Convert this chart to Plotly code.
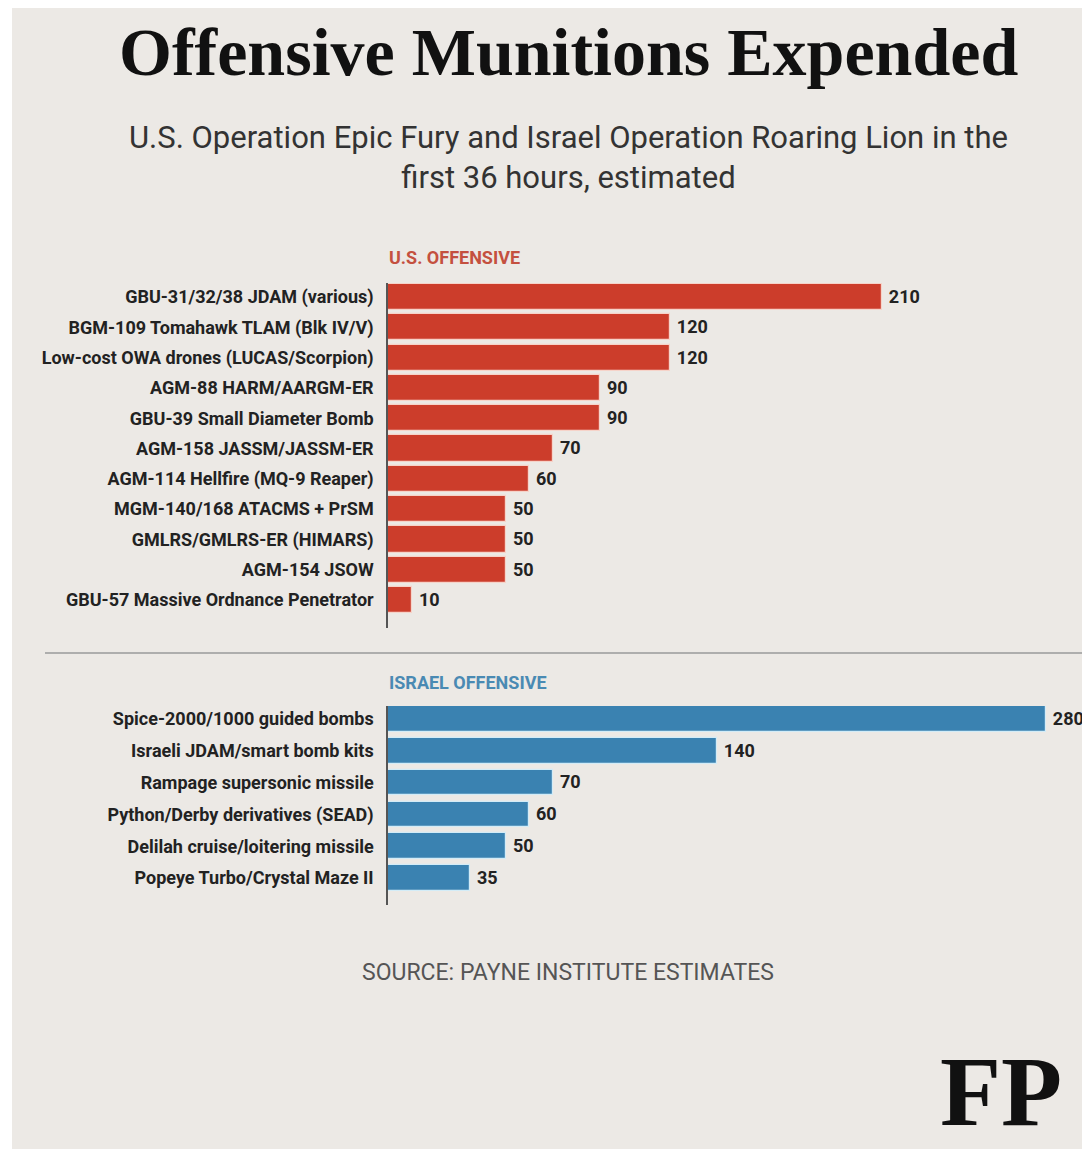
import plotly.graph_objects as go

# page body adds an 8px margin; figure is sized and positioned to compensate
OFF = 8
W, H = 1090 - OFF, 1149 - OFF

us_labels = [
    "GBU-31/32/38 JDAM (various)",
    "BGM-109 Tomahawk TLAM (Blk IV/V)",
    "Low-cost OWA drones (LUCAS/Scorpion)",
    "AGM-88 HARM/AARGM-ER",
    "GBU-39 Small Diameter Bomb",
    "AGM-158 JASSM/JASSM-ER",
    "AGM-114 Hellfire (MQ-9 Reaper)",
    "MGM-140/168 ATACMS + PrSM",
    "GMLRS/GMLRS-ER (HIMARS)",
    "AGM-154 JSOW",
    "GBU-57 Massive Ordnance Penetrator",
]
us_values = [210, 120, 120, 90, 90, 70, 60, 50, 50, 50, 10]

il_labels = [
    "Spice-2000/1000 guided bombs",
    "Israeli JDAM/smart bomb kits",
    "Rampage supersonic missile",
    "Python/Derby derivatives (SEAD)",
    "Delilah cruise/loitering missile",
    "Popeye Turbo/Crystal Maze II",
]
il_values = [280, 140, 70, 60, 50, 35]

title = "Offensive Munitions Expended"
subtitle = "U.S. Operation Epic Fury and Israel Operation Roaring Lion in the<br>first 36 hours, estimated"
source = "SOURCE: PAYNE INSTITUTE ESTIMATES"
logo = "FP"

RED = "#cc3d2b"
BLUE = "#3a82b1"
BG = "#ece9e5"
COND = "Roboto, sans-serif"


def px(x):
    return (x - OFF) / W


def py(y):
    return 1 - (y - OFF) / H


fig = go.Figure()
fig.add_trace(go.Bar(
    x=us_values, y=us_labels, orientation="h",
    marker=dict(color=RED, line=dict(color="#f6d3c9", width=1.2)),
    width=0.86,
    text=[" " + str(v) for v in us_values], textposition="outside",
    textfont=dict(family=COND, size=18, color="#222", weight="bold"),
    cliponaxis=False, xaxis="x", yaxis="y", hoverinfo="skip",
))
fig.add_trace(go.Bar(
    x=il_values, y=il_labels, orientation="h",
    marker=dict(color=BLUE, line=dict(color="#d3ecf7", width=1.2)),
    width=0.8,
    text=[" " + str(v) for v in il_values], textposition="outside",
    textfont=dict(family=COND, size=18, color="#222", weight="bold"),
    cliponaxis=False, xaxis="x2", yaxis="y2", hoverinfo="skip",
))

xdom = [px(388), px(1046)]
common_x = dict(range=[0, 280], showgrid=False, zeroline=False, showticklabels=False,
                showline=False, fixedrange=True)
common_y = dict(showgrid=False, zeroline=False, showline=True, linecolor="#555", linewidth=1.5,
                ticks="outside", ticklen=9, tickcolor="rgba(0,0,0,0)",
                tickfont=dict(family=COND, size=18, color="#222", weight="bold"),
                type="category")

fig.update_layout(
    width=W, height=H,
    margin=dict(l=0, r=0, t=0, b=0),
    paper_bgcolor="white", plot_bgcolor="rgba(0,0,0,0)",
    showlegend=False, bargap=0,
    xaxis=dict(domain=xdom, anchor="y", **common_x),
    xaxis2=dict(domain=xdom, anchor="y2", **common_x),
    yaxis=dict(domain=[py(628), py(283)], anchor="x", range=[10.92, -0.46], **common_y),
    yaxis2=dict(domain=[py(905), py(706)], anchor="x2", range=[5.85, -0.41], **common_y),
)

shapes = [
    dict(type="rect", xref="paper", yref="paper", x0=px(12), x1=1, y0=0, y1=py(7),
         fillcolor=BG, line=dict(width=0), layer="below"),
    dict(type="line", xref="paper", yref="paper", x0=px(45), x1=1, y0=py(653), y1=py(653),
         line=dict(color="#9a9a9a", width=1.5)),
]
fig.update_layout(shapes=shapes)

ann = [
    dict(text="<b>" + title + "</b>", x=px(568), y=py(52), xanchor="center", yanchor="middle",
         font=dict(family="Liberation Serif, serif", size=68, color="#111")),
    dict(text=subtitle, x=px(568), y=py(157), xanchor="center", yanchor="middle",
         font=dict(family=COND, size=31, color="#333")),
    dict(text="<b>U.S. OFFENSIVE</b>", x=px(387), y=py(258), xanchor="left", yanchor="middle",
         font=dict(family=COND, size=18, color="#c4503f")),
    dict(text="<b>ISRAEL OFFENSIVE</b>", x=px(387), y=py(683), xanchor="left", yanchor="middle",
         font=dict(family=COND, size=18, color="#4a8ab3")),
    dict(text=source, x=px(568), y=py(972), xanchor="center", yanchor="middle",
         font=dict(family=COND, size=23, color="#555")),
    dict(text="<b>" + logo + "</b>", x=px(1001), y=0, xanchor="center", yanchor="bottom",
         font=dict(family="Liberation Serif, serif", size=100, color="#111")),
]
for a in ann:
    a.update(xref="paper", yref="paper", showarrow=False)
fig.update_layout(annotations=ann)

fig.write_html("out.html")
